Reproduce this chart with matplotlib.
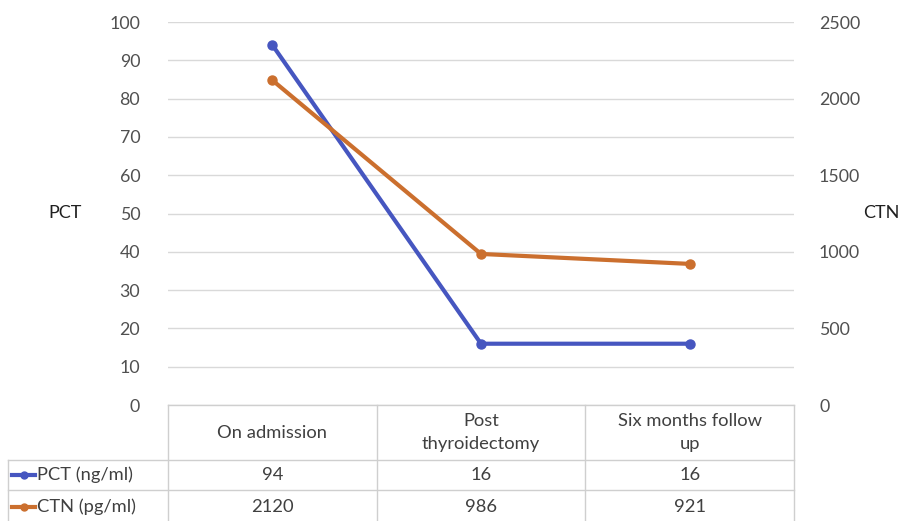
import matplotlib.pyplot as plt

plt.rcParams['font.family'] = ['Lato', 'DejaVu Sans']

categories = ['On admission', 'Post\nthyroidectomy', 'Six months follow\nup']
pct = [94, 16, 16]
ctn = [2120, 986, 921]
series_names = ['PCT (ng/ml)', 'CTN (pg/ml)']

blue = '#4656C0'
orange = '#CB6F2E'
grid_c = '#D9D9D9'
text_c = '#404040'

W, H = 902, 521
fig = plt.figure(figsize=(W / 100, H / 100), dpi=100)

# plot area in pixels
x0, x1, ytop, ybot = 168, 794, 22, 405
ax = fig.add_axes([x0 / W, 1 - ybot / H, (x1 - x0) / W, (ybot - ytop) / H])
ax2 = ax.twinx()

xs = list(range(len(categories)))
ax.plot(xs, pct, color=blue, lw=3, marker='o', ms=6.5, solid_capstyle='round', zorder=3)
ax2.plot(xs, ctn, color=orange, lw=3, marker='o', ms=6.5, solid_capstyle='round', zorder=3)

ax.set_xlim(-0.5, 2.5)
ax.set_ylim(0, 100)
ax2.set_ylim(0, 2500)
ax.set_yticks(range(0, 101, 10))
ax2.set_yticks(range(0, 2501, 500))
ax.yaxis.grid(True, color=grid_c, lw=1)
ax.set_axisbelow(True)
ax.set_xticks([])
for a in (ax, ax2):
    for s in a.spines.values():
        s.set_visible(False)
    a.tick_params(axis='y', length=0, labelsize=12.8, labelcolor='#505050')
ax.tick_params(axis='y', pad=20)
ax2.tick_params(axis='y', pad=18)
ax2.set_zorder(ax.get_zorder() + 1)

fig.text(65 / W, 1 - 213 / H, 'PCT', fontsize=13, color='#202020', ha='center', va='center')
fig.text(881 / W, 1 - 213 / H, 'CTN', fontsize=13, color='#202020', ha='center', va='center')

# data table underneath, drawn in pixel coordinates
tab = fig.add_axes([0, 0, 1, 1])
tab.set_xlim(0, W)
tab.set_ylim(H, 0)
tab.axis('off')
lc = '#CFCFCF'
cw = (x1 - x0) / len(categories)
r1, r2, r3 = 405, 460, 490
xl = 8
tab.plot([x0, x1], [r1, r1], color=lc, lw=1)
for i in range(len(categories) + 1):
    tab.plot([x0 + i * cw] * 2, [r1, H], color=lc, lw=1)
for yy in (r2, r3):
    tab.plot([xl, x1], [yy, yy], color=lc, lw=1)
tab.plot([xl, xl], [r2, H], color=lc, lw=1)

for i, c in enumerate(categories):
    tab.text(x0 + (i + 0.5) * cw, (r1 + r2) / 2, c, ha='center', va='center',
             fontsize=13.2, color=text_c, linespacing=1.55)
rows = [(pct, blue), (ctn, orange)]
ymid = [(r2 + r3) / 2, (r3 + H) / 2 + 1]
for (vals, col), name, ym in zip(rows, series_names, ymid):
    tab.plot([12, 35], [ym, ym], color=col, lw=3)
    tab.plot([23.5], [ym], marker='o', color=col, ms=5)
    tab.text(37, ym, name, ha='left', va='center', fontsize=13.2, color=text_c)
    for i, v in enumerate(vals):
        tab.text(x0 + (i + 0.5) * cw, ym, str(v), ha='center', va='center',
                 fontsize=13.2, color=text_c)

fig.savefig('out.png', dpi=100)
